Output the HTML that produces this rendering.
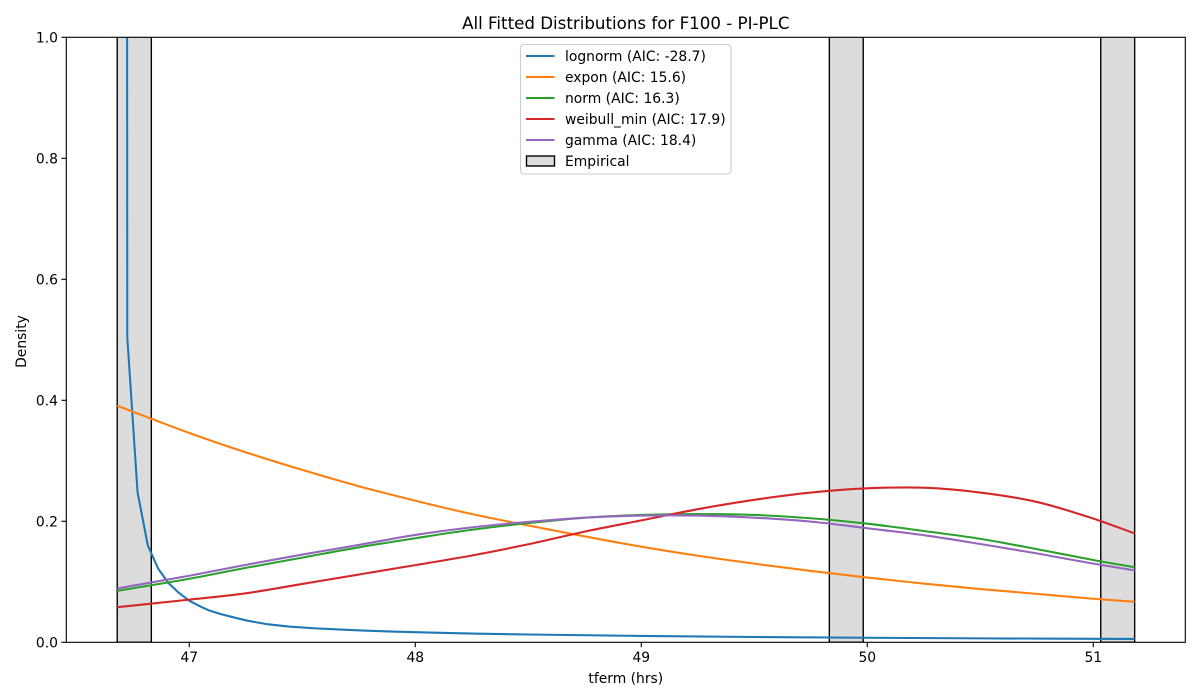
<!DOCTYPE html>
<html lang="en">
<head>
<meta charset="utf-8">
<title>All Fitted Distributions for F100 - PI-PLC</title>
<style>
html,body{margin:0;padding:0;background:#fff;width:1200px;height:700px;overflow:hidden}
svg{display:block}
text{font-family:"DejaVu Sans",sans-serif;fill:#000}
.lab{font-size:13.89px}
</style>
</head>
<body>
<svg id="chart" xmlns="http://www.w3.org/2000/svg" width="1200" height="700" viewBox="0 0 1200 700">
  <defs><clipPath id="plot-clip"><rect x="66.3" y="37.3" width="1119" height="605"/></clipPath></defs>
  <rect x="0" y="0" width="1200" height="700" fill="#fff"/>
  <g id="bars" clip-path="url(#plot-clip)"></g>
  <g id="lines" clip-path="url(#plot-clip)"></g>
  <g id="ticks"></g>
  <rect x="66.3" y="37.3" width="1119" height="605" fill="none" stroke="#000" stroke-width="1.11"/>
  <text x="625.8" y="29" text-anchor="middle" font-size="16.67">All Fitted Distributions for F100 - PI-PLC</text>
  <text class="lab" x="625.8" y="683" text-anchor="middle">tferm (hrs)</text>
  <text class="lab" x="0" y="0" text-anchor="middle" transform="translate(26,341.5) rotate(-90)">Density</text>
  <g>
    <rect x="520.5" y="44.5" width="210.5" height="129.5" rx="3.5" ry="3.5" fill="#fff" fill-opacity="0.8" stroke="#ccc" stroke-width="1.11"/>
    <g><line x1="526" x2="554.5" y1="56" y2="56" stroke="#1f77b4" stroke-width="2.08"/><text class="lab" x="565" y="61">lognorm (AIC: -28.7)</text></g>
    <g><line x1="526" x2="554.5" y1="77" y2="77" stroke="#ff7f0e" stroke-width="2.08"/><text class="lab" x="565" y="82">expon (AIC: 15.6)</text></g>
    <g><line x1="526" x2="554.5" y1="98" y2="98" stroke="#2ca02c" stroke-width="2.08"/><text class="lab" x="565" y="103">norm (AIC: 16.3)</text></g>
    <g><line x1="526" x2="554.5" y1="119" y2="119" stroke="#d62728" stroke-width="2.08"/><text class="lab" x="565" y="124">weibull_min (AIC: 17.9)</text></g>
    <g><line x1="526" x2="554.5" y1="140" y2="140" stroke="#9467bd" stroke-width="2.08"/><text class="lab" x="565" y="145">gamma (AIC: 18.4)</text></g>
    <g><rect x="526.5" y="156" width="28" height="10" fill="#dcdcdc" stroke="#000" stroke-width="1.39"/><text class="lab" x="565" y="166">Empirical</text></g>
  </g>
</svg>
<script>
const xTicks = [47, 48, 49, 50, 51];
const yTicks = [0, 0.2, 0.4, 0.6, 0.8, 1];
const yTickLabels = ['0.0', '0.2', '0.4', '0.6', '0.8', '1.0'];

const binStarts = [46.681, 49.832, 51.033];
const binEnds = [46.832, 49.982, 51.183];
const binDensities = [2.2, 2.2, 2.2];

const gridX = [46.681, 47, 47.25, 47.5, 47.75, 48, 48.25, 48.5, 48.75, 49, 49.25, 49.5, 49.75, 50, 50.25, 50.5, 50.75, 51, 51.183];
const exponY = [0.391, 0.346, 0.314, 0.285, 0.258, 0.234, 0.212, 0.193, 0.175, 0.158, 0.143, 0.130, 0.118, 0.107, 0.097, 0.088, 0.080, 0.072, 0.067];
const normY = [0.085, 0.105, 0.123, 0.140, 0.157, 0.172, 0.186, 0.197, 0.206, 0.2105, 0.212, 0.2105, 0.205, 0.196, 0.184, 0.171, 0.154, 0.136, 0.124];
const weibullY = [0.058, 0.0705, 0.081, 0.0965, 0.112, 0.1275, 0.1435, 0.162, 0.183, 0.2015, 0.220, 0.2355, 0.2475, 0.2545, 0.2555, 0.2475, 0.232, 0.2045, 0.180];
const gammaY = [0.089, 0.110, 0.128, 0.145, 0.161, 0.1775, 0.190, 0.199, 0.206, 0.2095, 0.2095, 0.206, 0.1995, 0.1885, 0.177, 0.1625, 0.147, 0.130, 0.119];

const lognormX = [46.722, 46.7255, 46.771, 46.8165, 46.862, 46.9075, 46.953, 47, 47.05, 47.09, 47.14, 47.195, 47.26, 47.34, 47.44, 47.56, 47.67, 47.785, 47.9, 48.02, 48.25, 48.5, 49, 49.5, 50, 50.5, 51, 51.183];
const lognormY = [3.0, 0.505, 0.248, 0.16, 0.122, 0.098, 0.082, 0.0685, 0.059, 0.0523, 0.0465, 0.0413, 0.0355, 0.0302, 0.026, 0.023, 0.021, 0.0192, 0.0177, 0.0165, 0.0145, 0.0129, 0.0105, 0.0088, 0.0075, 0.0065, 0.0057, 0.0055];

const SVGNS = 'http://www.w3.org/2000/svg';
function xScale(v) { return 189.3 + (v - 47) * 226; }
function yScale(v) { return 642.3 - v * 605; }

const barsGroup = document.getElementById('bars');
binStarts.forEach(function (start, i) {
  const bar = document.createElementNS(SVGNS, 'rect');
  
  
  bar.setAttribute('x', xScale(start));
  bar.setAttribute('width', xScale(binEnds[i]) - xScale(start));
  bar.setAttribute('y', yScale(binDensities[i]));
  bar.setAttribute('height', yScale(0) - yScale(binDensities[i]));
  bar.setAttribute('fill', '#dcdcdc');
  bar.setAttribute('stroke', '#000');
  bar.setAttribute('stroke-width', '1.39');
  barsGroup.appendChild(bar);
});

function straightPath(xs, ys) {
  return xs.map(function (x, i) {
    return (i ? 'L' : 'M') + xScale(x).toFixed(2) + ' ' + yScale(ys[i]).toFixed(2);
  }).join(' ');
}
function smoothPath(xs, ys) {
  const px = xs.map(xScale);
  const py = ys.map(yScale);
  let d = 'M' + px[0].toFixed(2) + ' ' + py[0].toFixed(2);
  for (let i = 0; i < px.length - 1; i++) {
    const a = Math.max(i - 1, 0);
    const b = Math.min(i + 2, px.length - 1);
    const h = px[i + 1] - px[i];
    const m0 = (py[i + 1] - py[a]) / (px[i + 1] - px[a]);
    const m1 = (py[b] - py[i]) / (px[b] - px[i]);
    d += ' C' + (px[i] + h / 3).toFixed(2) + ' ' + (py[i] + m0 * h / 3).toFixed(2) + ' ' +
      (px[i + 1] - h / 3).toFixed(2) + ' ' + (py[i + 1] - m1 * h / 3).toFixed(2) + ' ' +
      px[i + 1].toFixed(2) + ' ' + py[i + 1].toFixed(2);
  }
  return d;
}

const linesGroup = document.getElementById('lines');
function drawLine(d, color, name) {
  const line = document.createElementNS(SVGNS, 'path');
  
  
  line.setAttribute('d', d);
  line.setAttribute('fill', 'none');
  line.setAttribute('stroke', color);
  line.setAttribute('stroke-width', '2.08');
  line.setAttribute('stroke-linejoin', 'round');
  linesGroup.appendChild(line);
}
drawLine(straightPath(lognormX, lognormY), '#1f77b4', 'lognorm-curve');
drawLine(smoothPath(gridX, exponY), '#ff7f0e', 'expon-curve');
drawLine(smoothPath(gridX, normY), '#2ca02c', 'norm-curve');
drawLine(smoothPath(gridX, weibullY), '#d62728', 'weibull-min-curve');
drawLine(smoothPath(gridX, gammaY), '#9467bd', 'gamma-curve');

const ticksGroup = document.getElementById('ticks');
xTicks.forEach(function (t) {
  const mark = document.createElementNS(SVGNS, 'line');
  
  
  mark.setAttribute('x1', xScale(t));
  mark.setAttribute('x2', xScale(t));
  mark.setAttribute('y1', 642.3);
  mark.setAttribute('y2', 647.2);
  mark.setAttribute('stroke', '#000');
  mark.setAttribute('stroke-width', '1.11');
  ticksGroup.appendChild(mark);
  const label = document.createElementNS(SVGNS, 'text');
  
  
  label.setAttribute('class', 'lab');
  label.setAttribute('x', xScale(t));
  label.setAttribute('y', 662);
  label.setAttribute('text-anchor', 'middle');
  label.textContent = String(t);
  ticksGroup.appendChild(label);
});
yTicks.forEach(function (t, i) {
  const mark = document.createElementNS(SVGNS, 'line');
  
  
  mark.setAttribute('x1', 61.4);
  mark.setAttribute('x2', 66.3);
  mark.setAttribute('y1', yScale(t));
  mark.setAttribute('y2', yScale(t));
  mark.setAttribute('stroke', '#000');
  mark.setAttribute('stroke-width', '1.11');
  ticksGroup.appendChild(mark);
  const label = document.createElementNS(SVGNS, 'text');
  
  
  label.setAttribute('class', 'lab');
  label.setAttribute('x', 58);
  label.setAttribute('y', yScale(t) + 5);
  label.setAttribute('text-anchor', 'end');
  label.textContent = yTickLabels[i];
  ticksGroup.appendChild(label);
});
</script>
</body>
</html>
